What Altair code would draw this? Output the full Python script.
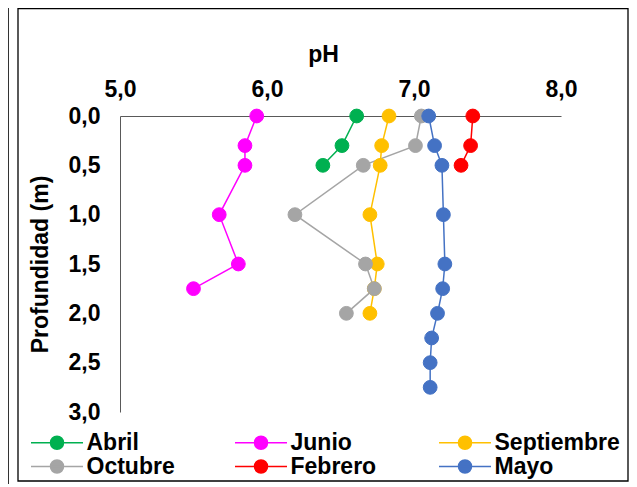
import altair as alt
import pandas as pd

meses = ["Abril", "Junio", "Septiembre", "Octubre", "Febrero", "Mayo"]
colores = ["#00B050", "#FF00FF", "#FFC000", "#A5A5A5", "#FF0000", "#4472C4"]

prof_abril = [0.0, 0.3, 0.5]
ph_abril = [6.61, 6.51, 6.38]

prof_junio = [0.0, 0.3, 0.5, 1.0, 1.5, 1.75]
ph_junio = [5.93, 5.85, 5.85, 5.675, 5.805, 5.50]

prof_septiembre = [0.0, 0.3, 0.5, 1.0, 1.5, 1.75, 2.0]
ph_septiembre = [6.83, 6.78, 6.77, 6.70, 6.75, 6.73, 6.70]

prof_octubre = [0.0, 0.3, 0.5, 1.0, 1.5, 1.75, 2.0]
ph_octubre = [7.05, 7.01, 6.655, 6.19, 6.67, 6.73, 6.54]

prof_febrero = [0.0, 0.3, 0.5]
ph_febrero = [7.40, 7.385, 7.32]

prof_mayo = [0.0, 0.3, 0.5, 1.0, 1.5, 1.75, 2.0, 2.25, 2.5, 2.75]
ph_mayo = [7.10, 7.14, 7.19, 7.20, 7.21, 7.195, 7.16, 7.12, 7.11, 7.11]

x_ticks = [5, 6, 7, 8]
y_ticks = [0, 0.5, 1.0, 1.5, 2.0, 2.5, 3.0]

series = [
    ("Abril", prof_abril, ph_abril),
    ("Junio", prof_junio, ph_junio),
    ("Septiembre", prof_septiembre, ph_septiembre),
    ("Octubre", prof_octubre, ph_octubre),
    ("Febrero", prof_febrero, ph_febrero),
    ("Mayo", prof_mayo, ph_mayo),
]
rows = []
for mes, prof, ph in series:
    for p, v in zip(prof, ph):
        rows.append({"Mes": mes, "Profundidad": p, "pH": v})
df = pd.DataFrame(rows)

FONT = "Liberation Sans"
comma_fmt = "replace(format(datum.value, '.1f'), '.', ',')"

x_enc = alt.X(
    "pH:Q",
    scale=alt.Scale(domain=[5, 8], nice=False, zero=False),
    axis=alt.Axis(
        orient="top", values=x_ticks, labelExpr=comma_fmt, title="pH",
        grid=False, ticks=False, tickSize=0, domainColor="#595959", domainWidth=1,
        labelFont=FONT, labelFontSize=23, labelFontWeight="bold", labelColor="#000000",
        labelBaseline="alphabetic", labelPadding=20, labelFlush=False, labelAlign="center",
        titleFont=FONT, titleFontSize=23, titleFontWeight="bold", titleColor="#000000",
        titleX=203, titleY=-55, titleBaseline="alphabetic", titleAlign="center",
    ),
)
y_enc = alt.Y(
    "Profundidad:Q",
    scale=alt.Scale(domain=[0, 3], reverse=True, nice=False, zero=False),
    axis=alt.Axis(
        values=y_ticks, labelExpr=comma_fmt, title="Profundidad (m)",
        grid=False, ticks=False, tickSize=0, domainColor="#595959", domainWidth=1,
        labelFont=FONT, labelFontSize=23, labelFontWeight="bold", labelColor="#000000",
        labelPadding=20, labelBaseline="middle", labelFlush=False,
        titleFont=FONT, titleFontSize=23, titleFontWeight="bold", titleColor="#000000",
        titleAngle=270, titleX=-80, titleY=148, titleBaseline="middle", titleAlign="center",
    ),
)

# line through a filled circle; drawn beyond the unit square so that the
# legend rows keep the height of the circle only
sym_path = "M-4,0L4,0M-1,0A1,1,0,1,0,1,0A1,1,0,1,0,-1,0Z"

leg = alt.Legend(
    title=None, orient="none", legendX=-74.5, legendY=315, columns=3,
    direction="horizontal",
    symbolType=sym_path, symbolSize=169, symbolStrokeWidth=1.5,
    labelFont=FONT, labelFontSize=23, labelFontWeight="bold", labelColor="#000000",
    labelOffset=18, columnPadding=19, rowPadding=0, gridAlign="all", padding=0,
)
col_scale = alt.Scale(domain=meses, range=colores)

lines = alt.Chart(df).mark_line(strokeWidth=1.5).encode(
    x=x_enc, y=y_enc,
    stroke=alt.Stroke("Mes:N", scale=col_scale, legend=leg, sort=meses),
    order="Profundidad:Q",
)
points = alt.Chart(df).mark_point(filled=True, size=190, opacity=1, strokeWidth=1).encode(
    x=x_enc, y=y_enc,
    fill=alt.Fill("Mes:N", scale=col_scale, legend=leg, sort=meses),
    stroke=alt.Stroke("Mes:N", scale=col_scale, legend=leg, sort=meses),
)

deco = pd.DataFrame({"k": [0]})
border = alt.Chart(deco).mark_rect(filled=False, stroke="#000000", strokeWidth=1.3).encode(
    x=alt.value(-102), x2=alt.value(508), y=alt.value(-107.5), y2=alt.value(365)
)
side = alt.Chart(deco).mark_rule(color="#333333", strokeWidth=1).encode(
    x=alt.value(-111.5), y=alt.value(-108), y2=alt.value(368)
)

chart = alt.layer(lines, points, border, side).properties(
    width=441, height=296,
    autosize=alt.AutoSizeParams(type="none"),
    padding={"left": 112, "top": 108, "right": 68, "bottom": 72},
).configure_view(stroke=None)

chart.save("out.html", embed_options={"renderer": "svg", "actions": False})
